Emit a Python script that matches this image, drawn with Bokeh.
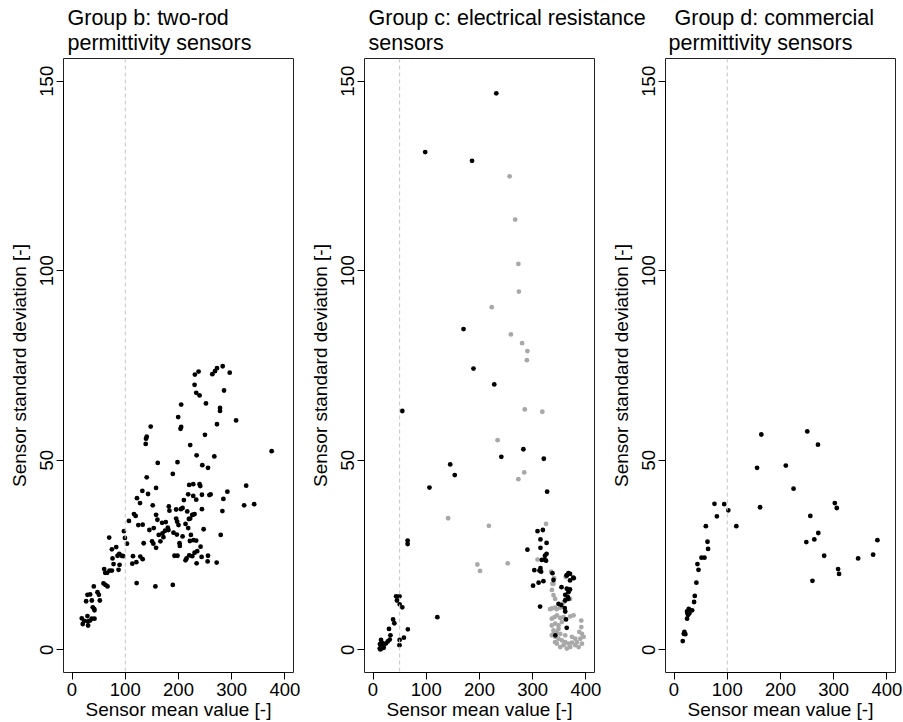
from bokeh.plotting import figure
from bokeh.layouts import column, row
from bokeh.models import Range1d, Span, FixedTicker
from bokeh.core.properties import value
from bokeh.embed import file_html
from bokeh.resources import INLINE

# ---------------- data ----------------
# Group b: two-rod permittivity sensors
b_mean = [230.8, 237.7, 230.2, 233.3, 239.6, 263.5, 268.5, 272.3, 283.0, 296.2, 285.5, 251.6, 205.0, 199.4,
          205.0, 203.8, 278.0, 278.0, 308.2, 272.3, 249.7, 147.8, 140.3, 139.0, 138.4, 222.0, 234.0, 267.3,
          375.0, 161.0, 198.1, 244.7, 255.4, 189.3, 140.3, 157.9, 220.1, 227.7, 239.6, 240.9, 327.1, 291.8,
          284.3, 260.4, 258.0, 244.0, 233.3, 227.7, 218.2, 210.1, 142.8, 132.1, 122.0, 127.7, 151.6, 181.8,
          183.0, 195.6, 204.4, 207.6, 216.4, 225.8, 230.2, 244.0, 282.4, 323.3, 342.1, 116.4, 119.5, 106.9,
          124.5, 132.7, 157.9, 160.4, 169.2, 176.1, 179.9, 174.8, 169.8, 162.9, 153.5, 145.3, 195.6, 197.5,
          200.0, 213.2, 219.5, 222.0, 227.0, 218.2, 247.2, 97.5, 99.4, 103.2, 69.8, 74.9, 83.0, 88.7, 93.1,
          85.5, 96.2, 76.1, 78.0, 89.3, 87.4, 74.9, 60.4, 62.3, 66.1, 70.5, 40.9, 59.1, 62.9, 66.7, 121.4,
          156.6, 189.3, 114.5, 113.2, 120.8, 128.3, 132.7, 134.6, 150.3, 152.8, 166.0, 157.9, 171.7, 181.1,
          190.6, 196.9, 207.6, 201.9, 202.5, 192.5, 198.1, 213.2, 215.1, 220.1, 225.8, 230.2, 235.2, 241.5,
          234.0, 243.4, 254.7, 255.4, 271.7, 279.3, 228.3, 233.3, 223.3, 221.4, 26.5, 29.0, 34.0, 37.2, 47.8,
          50.4, 52.2, 39.0, 41.6, 42.2, 18.3, 20.2, 29.0, 30.2, 34.0, 37.2, 42.2, 29.6, 22.7]
b_sd = [72.6, 73.4, 69.9, 67.8, 67.1, 72.7, 73.5, 74.3, 74.8, 73.1, 68.4, 65.0, 64.7, 61.4,
        58.8, 58.3, 63.8, 63.0, 60.5, 59.5, 56.7, 58.9, 56.2, 55.7, 54.3, 54.0, 51.3, 51.0,
        52.4, 49.3, 49.5, 48.7, 48.0, 46.4, 45.5, 42.7, 43.5, 43.7, 43.7, 43.2, 43.3, 41.7,
        39.8, 41.0, 40.8, 40.9, 39.6, 40.6, 41.0, 39.5, 41.1, 41.9, 40.0, 38.7, 38.1, 37.8,
        36.7, 37.0, 37.1, 37.4, 36.5, 35.6, 35.8, 37.1, 36.6, 38.1, 38.4, 35.8, 35.3, 34.0,
        32.9, 33.0, 35.6, 34.3, 33.5, 33.7, 32.2, 31.4, 30.7, 30.3, 32.1, 31.6, 34.6, 33.8,
        32.9, 33.2, 34.5, 34.6, 35.6, 32.1, 31.8, 31.3, 29.5, 28.0, 29.6, 26.5, 27.1, 25.3, 24.8,
        24.8, 24.7, 24.1, 22.6, 22.4, 21.1, 20.9, 21.3, 20.3, 20.3, 20.9, 16.7, 17.5, 17.1, 16.7, 17.6,
        16.7, 17.1, 24.7, 22.7, 23.1, 24.6, 23.9, 28.1, 28.6, 28.0, 28.6, 26.9, 29.7, 31.6,
        30.9, 30.4, 29.9, 28.1, 27.4, 24.8, 24.8, 23.6, 24.1, 24.9, 24.7, 25.6, 26.0, 27.2,
        22.8, 24.5, 23.3, 24.8, 23.0, 30.3, 28.9, 28.8, 30.3, 28.7, 12.8, 14.5, 14.6, 13.0, 15.2,
        14.5, 13.0, 11.2, 10.8, 10.4, 8.3, 6.8, 8.9, 6.4, 7.7, 8.2, 8.2, 7.5, 7.6]

# Group c: electrical resistance sensors (black and grey series)
c_black_mean = [231.5, 98.0, 186.0, 170.0, 188.7, 227.7, 55.0, 282.4, 241.0, 320.8, 145.0, 153.5, 106.0,
                327.0, 65.0, 65.0, 309.0, 319.0, 314.5, 326.0, 314.5, 290.0, 326.0, 323.0, 322.0, 317.0,
                325.0, 303.0, 314.5, 315.7, 312.6, 337.0, 367.0, 363.5, 376.0, 300.6, 311.0, 320.0, 339.0,
                313.8, 120.8, 370.0, 364.0, 377.0, 370.0, 354.0, 364.0, 370.0, 367.0, 361.0, 366.0, 361.0,
                367.0, 353.5, 348.5, 360.0, 361.0, 362.5, 363.8, 342.5, 12.6, 15.0, 18.0, 21.0, 24.5, 27.7,
                31.4, 15.0, 30.0, 32.7, 37.7, 40.0, 43.4, 49.7, 45.0, 50.0, 55.0, 65.4, 58.0, 50.0, 49.7,
                14.0, 16.0, 20.0, 13.0, 17.0]
c_black_sd = [146.8, 131.3, 129.0, 84.6, 74.2, 70.0, 63.0, 52.9, 50.9, 50.4, 48.9, 46.1, 42.8,
              41.7, 28.8, 27.9, 31.3, 31.6, 29.1, 28.2, 26.9, 26.4, 25.3, 24.8, 23.8, 23.7,
              23.5, 21.0, 21.5, 20.6, 20.9, 20.2, 20.2, 19.6, 19.0, 16.9, 17.7, 18.1, 18.4,
              11.4, 8.6, 20.0, 19.6, 18.9, 18.3, 16.5, 16.1, 15.9, 15.2, 14.5, 13.9, 13.0,
              13.4, 11.8, 12.1, 11.0, 10.1, 8.0, 5.8, 3.8, 0.3, 0.7, 1.0, 1.3, 1.7, 2.2,
              2.7, 2.6, 5.5, 3.8, 8.0, 7.0, 14.1, 14.1, 13.0, 12.0, 11.2, 5.4, 3.2, 2.6, 1.2,
              0.1, 0.4, 0.5, 1.5, 1.8]
c_grey_mean = [256.6, 267.0, 273.0, 274.0, 223.0, 259.0, 280.0, 290.0, 289.0, 285.0, 318.0, 234.0, 284.0,
               273.0, 141.0, 217.6, 325.0, 196.0, 201.0, 253.0, 309.0, 334.5, 362.0, 340.0, 337.0,
               339.0, 336.0, 339.0, 342.0, 332.7, 336.0, 342.0, 345.0, 351.5, 358.0, 362.0, 370.0,
               335.8, 340.9, 345.3, 351.6, 357.9, 370.4, 376.7, 391.2, 335.8, 342.1, 348.4, 354.7,
               339.0, 345.3, 351.6, 335.8, 342.1, 348.4, 354.7, 361.0, 367.3, 373.6, 379.9, 386.2,
               392.4, 389.3, 387.4, 391.2, 395.6, 345.3, 351.6, 357.9, 342.1, 373.6, 379.9, 370.4,
               364.1, 383.0, 392.4, 348.4, 361.0, 339.0]
c_grey_sd = [124.9, 113.5, 101.8, 94.5, 90.4, 83.2, 80.9, 78.8, 76.4, 63.4, 62.8, 55.3, 46.8,
             45.0, 34.7, 32.7, 33.2, 22.5, 20.8, 22.8, 23.8, 20.6, 19.2, 18.9, 17.4,
             17.4, 15.8, 14.4, 13.4, 10.7, 10.9, 11.1, 10.7, 11.1, 12.5, 13.4, 13.4,
             8.2, 8.6, 9.1, 8.4, 8.6, 8.8, 9.1, 7.7, 6.4, 6.9, 6.4, 7.3,
             5.1, 4.7, 4.2, 3.8, 3.4, 2.9, 2.5, 2.0, 1.6, 1.9, 1.2, 0.7,
             1.6, 2.9, 4.7, 6.0, 3.4, 1.6, 0.7, 1.2, 2.0, 3.4, 2.9, 0.7,
             0.3, 2.0, 4.2, 5.5, 3.8, 4.2]

# Group d: commercial permittivity sensors
d_mean = [164.0, 250.3, 270.4, 156.0, 210.0, 224.5, 76.0, 94.3, 102.0, 80.5, 161.6, 117.0, 59.8, 62.9,
          64.0, 51.6, 57.2, 44.0, 46.0, 42.0, 39.0, 37.7, 24.5, 27.7, 34.0, 26.4, 25.0, 29.0, 24.5,
          19.5, 21.3, 18.3, 16.4, 302.0, 305.7, 256.0, 271.0, 263.5, 248.5, 282.0, 308.2, 310.0,
          260.0, 345.8, 374.0, 382.0]
d_sd = [56.8, 57.6, 54.1, 48.0, 48.6, 42.5, 38.5, 38.4, 36.8, 35.2, 37.6, 32.6, 32.6, 28.5,
        26.6, 24.3, 24.3, 22.6, 21.1, 17.7, 14.2, 12.6, 10.1, 10.8, 10.4, 9.2, 9.7, 9.6, 8.2,
        4.7, 4.1, 4.2, 2.3, 38.7, 37.4, 35.3, 30.8, 29.1, 28.4, 24.8, 21.3, 20.0,
        18.2, 24.1, 25.1, 28.9]

x_ticks = [0, 100, 200, 300, 400]
y_ticks = [0, 50, 100, 150]
ref_lines = [100, 50, 100]   # dashed vertical reference per panel
title_lines = [["Group b: two-rod", "permittivity sensors"],
               ["Group c: electrical resistance", "sensors"],
               ["Group d: commercial", "permittivity sensors"]]
x_label = "Sensor mean value [-]"
y_label = "Sensor standard deviation [-]"

FONT = "Liberation Sans"
W, STRIP_H = 903, 58
PW, PH = 301, 664

# ---------------- title strip ----------------
tt = figure(width=W, height=STRIP_H, x_range=Range1d(0, W), y_range=Range1d(STRIP_H, 0),
            output_backend="svg", toolbar_location=None, min_border=0)
tt.axis.visible = False
tt.grid.visible = False
tt.outline_line_color = None
tx, ty, txt = [], [], []
starts = [(67, 67), (368, 368), (674, 668)]
for i, (l1, l2) in enumerate(title_lines):
    tx += [starts[i][0], starts[i][1]]
    ty += [5, 30.5]
    txt += [l1, l2]
tt.text(x=tx, y=ty, text=txt, text_font=value(FONT), text_font_size="21.5px",
        text_color="black", text_baseline="top", text_align="left")


def panel(series, ref):
    p = figure(width=PW, height=PH, x_range=Range1d(-16, 416), y_range=Range1d(-6, 156),
               output_backend="svg", toolbar_location=None,
               min_border_left=63, min_border_right=8, min_border_top=0, min_border_bottom=49)
    p.grid.visible = False
    p.outline_line_color = "#222222"
    p.outline_line_width = 1
    p.add_layout(Span(location=ref, dimension="height", line_color="#c4c4c4",
                      line_dash="4 3", line_width=1))
    for xs, ys, col in series:
        p.scatter(x=xs, y=ys, size=4.8, fill_color=col, line_color=None)
    for ax in (p.xaxis[0], p.yaxis[0]):
        ax.axis_line_color = "black"
        ax.major_tick_line_color = "black"
        ax.minor_tick_line_color = None
        ax.major_tick_out = 7
        ax.major_tick_in = 0
        ax.major_label_text_font = FONT
        ax.major_label_text_font_size = "18.5px"
        ax.major_label_text_color = "black"
        ax.axis_label_text_font = FONT
        ax.axis_label_text_font_size = "19px"
        ax.axis_label_text_font_style = "normal"
        ax.axis_label_text_color = "black"
    p.xaxis[0].ticker = FixedTicker(ticks=x_ticks)
    p.xaxis[0].bounds = (0, 400)
    p.xaxis[0].axis_label = x_label
    p.xaxis[0].major_label_standoff = 3
    p.xaxis[0].axis_label_standoff = 0
    p.yaxis[0].ticker = FixedTicker(ticks=y_ticks)
    p.yaxis[0].bounds = (0, 150)
    p.yaxis[0].axis_label = y_label
    p.yaxis[0].major_label_orientation = "vertical"
    p.yaxis[0].major_label_standoff = 3
    p.yaxis[0].axis_label_standoff = 8
    return p


pb = panel([(b_mean, b_sd, "black")], ref_lines[0])
pc = panel([(c_grey_mean, c_grey_sd, "#a8a8a8"), (c_black_mean, c_black_sd, "black")], ref_lines[1])
pd_ = panel([(d_mean, d_sd, "black")], ref_lines[2])

layout = column(tt, row(pb, pc, pd_, spacing=0), spacing=0)
open("out.html", "w").write(file_html(layout, INLINE))
